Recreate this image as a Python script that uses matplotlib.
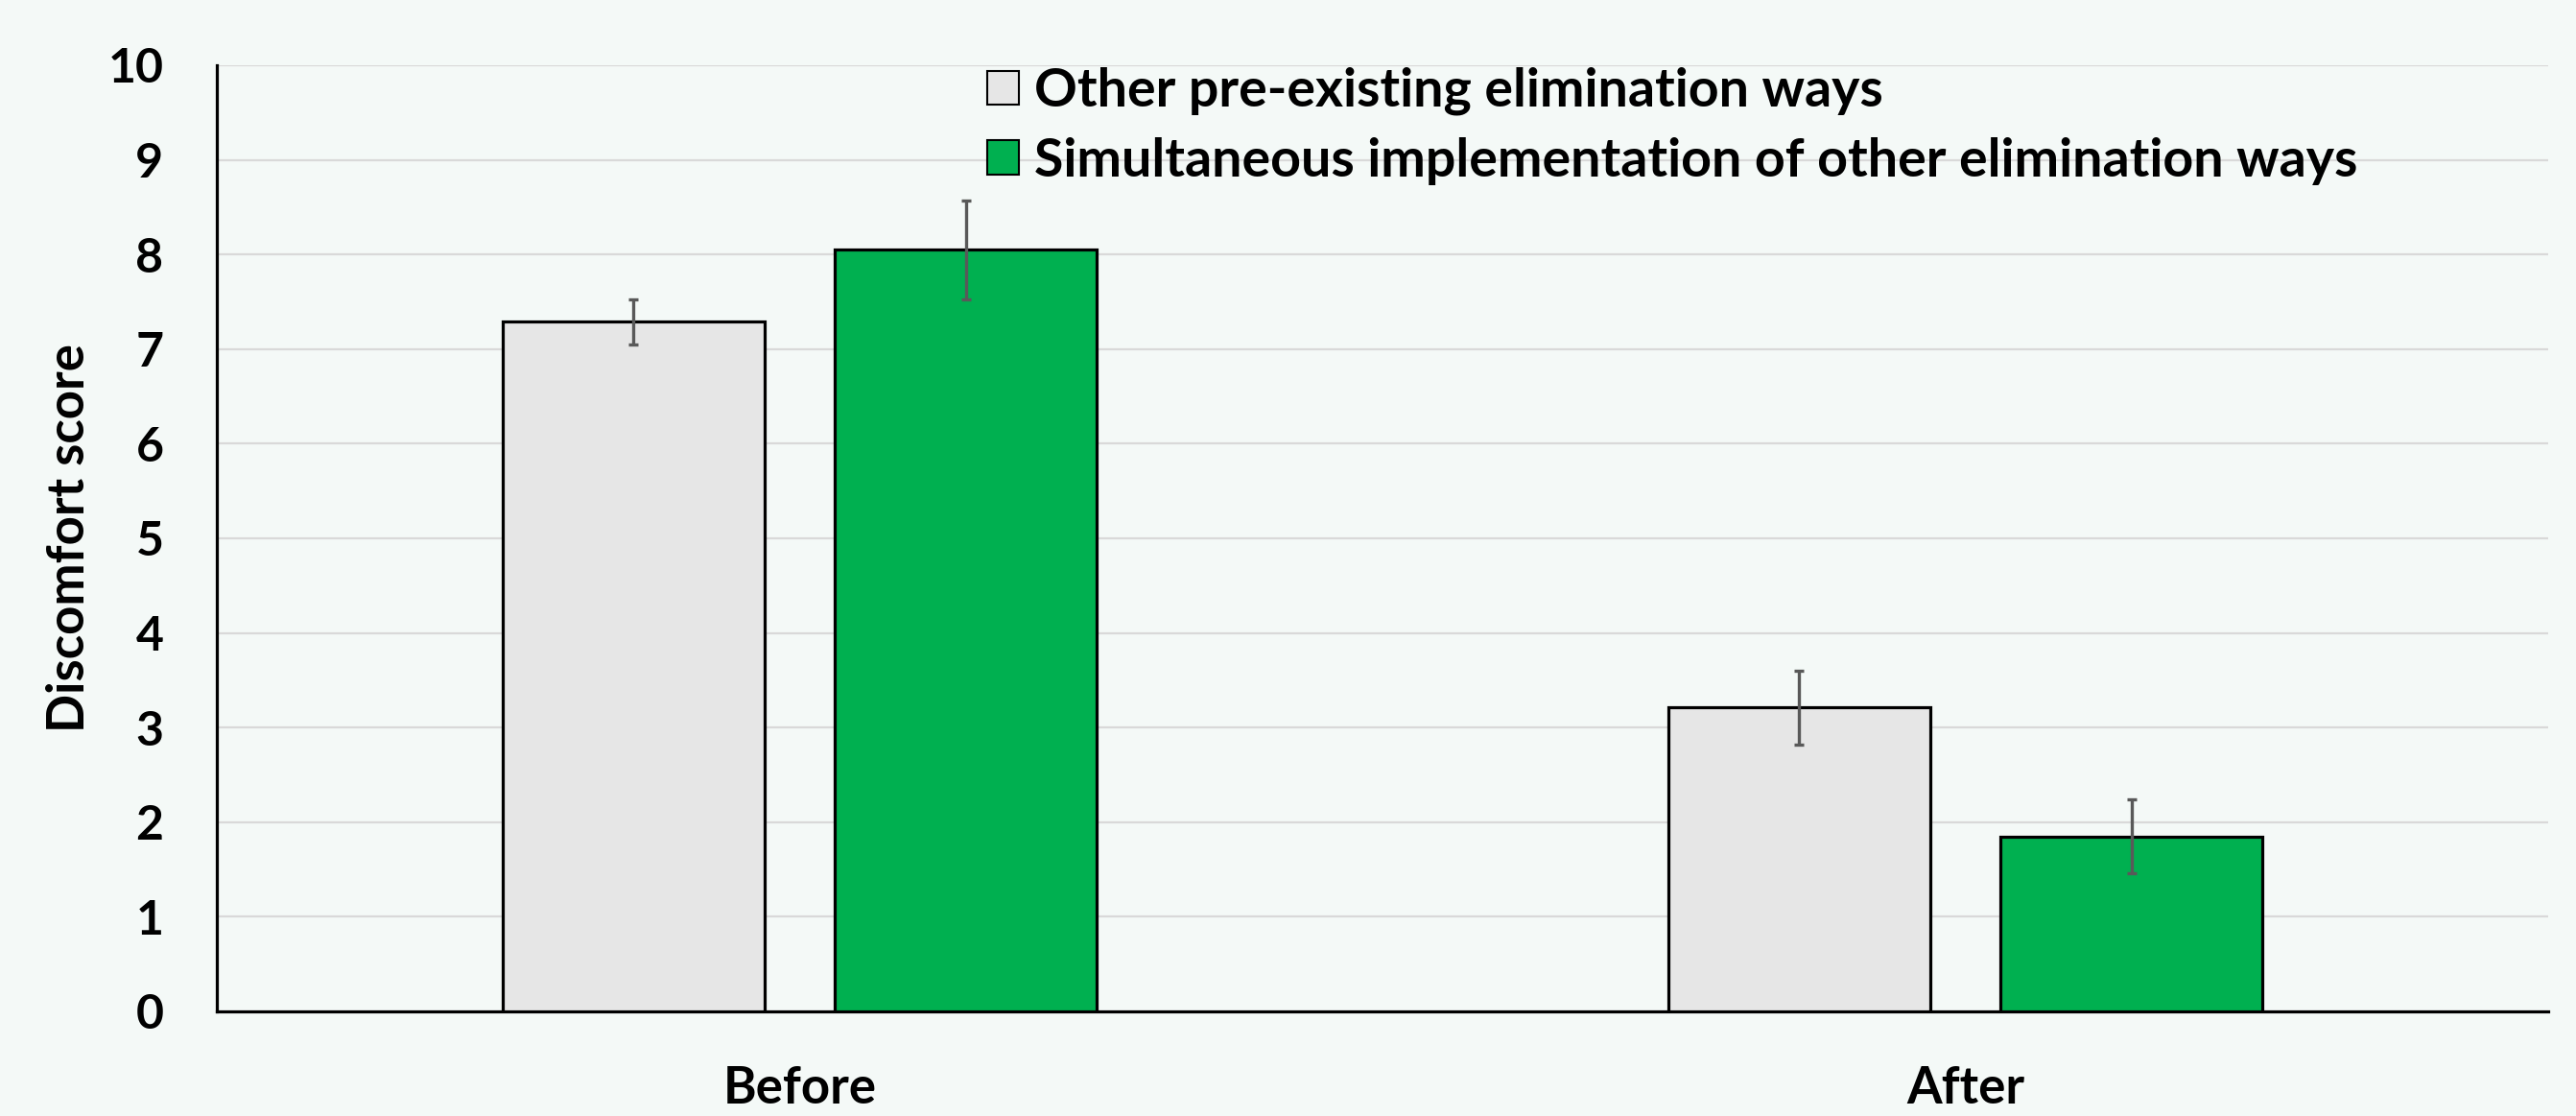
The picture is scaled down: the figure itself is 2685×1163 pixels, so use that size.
import matplotlib
matplotlib.use("Agg")
import matplotlib.pyplot as plt
import numpy as np

categories = ["Before", "After"]
series_names = ["Other pre-existing elimination ways",
                "Simultaneous implementation of other elimination ways"]
values_other = [7.29, 3.21]
values_simul = [8.05, 1.85]
err_other = [0.24, 0.39]
err_simul = [0.52, 0.39]
yticks = list(range(0, 11))

BG = "#F4F9F7"
GRAY = "#E6E6E6"
GREEN = "#00B050"
ERR = "#595959"
FONT = ["Lato", "DejaVu Sans"]

plt.rcParams["font.family"] = FONT
plt.rcParams["font.weight"] = "bold"

fig = plt.figure(figsize=(26.85, 11.63), dpi=100, facecolor=BG)
ax = fig.add_axes([226/2685, 1-1054/1163, (2656-226)/2685, (1054-68)/1163])
ax.set_facecolor(BG)

x = np.arange(len(categories))
w = 0.224
off = 0.1424
ekw = dict(ecolor=ERR, elinewidth=2.4, capsize=3.6, capthick=2.4)
ax.bar(x - off, values_other, w, color=GRAY, edgecolor="black", linewidth=2.3,
       yerr=err_other, error_kw=ekw, label=series_names[0], zorder=3)
ax.bar(x + off, values_simul, w, color=GREEN, edgecolor="black", linewidth=2.3,
       yerr=err_simul, error_kw=ekw, label=series_names[1], zorder=3)

ax.set_xlim(-0.5, 1.5)
ax.set_ylim(0, 10)
ax.set_yticks(yticks)
ax.set_xticks(x)
ax.set_xticklabels(categories)
ax.grid(axis="y", color="#D9D9D9", linewidth=1.6, zorder=0)
ax.set_axisbelow(True)
for s in ["top", "right"]:
    ax.spines[s].set_visible(False)
ax.spines["left"].set_linewidth(2.3)
ax.spines["bottom"].set_linewidth(2.3)
ax.tick_params(axis="y", length=0, labelsize=36, pad=40)
ax.tick_params(axis="x", length=0, labelsize=38, pad=40)
for lab in ax.get_xticklabels() + ax.get_yticklabels():
    lab.set_fontweight("bold")

ax.set_ylabel("Discomfort score", fontsize=38, fontweight="bold", labelpad=11)

leg = fig.legend(loc="upper left", bbox_to_anchor=(1029/2685, 1-70/1163),
                 frameon=False, fontsize=40, handlelength=0.6, handleheight=0.6,
                 handletextpad=0.28, labelspacing=0.4, borderpad=0, borderaxespad=0)
for t in leg.get_texts():
    t.set_fontweight("bold")
for h in leg.legend_handles:
    h.set_linewidth(1.5)

fig.savefig("out.png", dpi=100, facecolor=BG)
